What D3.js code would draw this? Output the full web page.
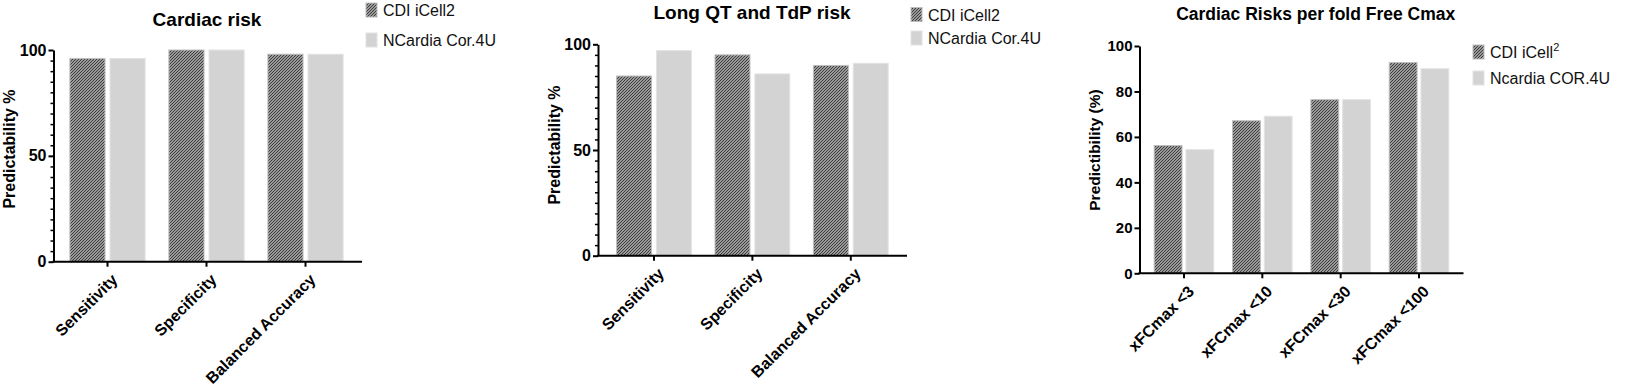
<!DOCTYPE html>
<html>
<head>
<meta charset="utf-8">
<script src="https://cdn.jsdelivr.net/npm/d3@7/dist/d3.min.js"></script>
<style>
  html, body { margin: 0; padding: 0; background: #fff; }
  svg { display: block; font-family: "Liberation Sans", Arial, Helvetica, sans-serif; }
</style>
</head>
<body>
<svg id="chart" width="1649" height="386"></svg>
<script>
// ---------- data ----------
const p1Title = "Cardiac risk";
const p1Categories = ["Sensitivity", "Specificity", "Balanced Accuracy"];
const p1CDI = [96, 100, 98];
const p1NCardia = [96, 100, 98];
const p1YTicks = [0, 50, 100];
const p1YLabel = "Predictability %";
const p1Legend = ["CDI iCell2", "NCardia Cor.4U"];

const p2Title = "Long QT and TdP risk";
const p2Categories = ["Sensitivity", "Specificity", "Balanced Accuracy"];
const p2CDI = [85, 95, 90];
const p2NCardia = [97, 86, 91];
const p2YTicks = [0, 50, 100];
const p2YLabel = "Predictability %";
const p2Legend = ["CDI iCell2", "NCardia Cor.4U"];

const p3Title = "Cardiac Risks per fold Free Cmax";
const p3Categories = ["xFCmax <3", "xFCmax <10", "xFCmax <30", "xFCmax <100"];
const p3CDI = [56.2, 67.1, 76.4, 92.7];
const p3Ncardia = [54.4, 69.1, 76.4, 90.0];
const p3YTicks = [0, 20, 40, 60, 80, 100];
const p3YLabel = "Predictibility (%)";
const p3Legend = ["CDI iCell", "Ncardia COR.4U"];
const p3LegendSup = ["2", ""];

// ---------- drawing ----------
const svg = d3.select("#chart");
const defs = svg.append("defs");
const pat = defs.append("pattern")
  .attr("id", "hatch").attr("patternUnits", "userSpaceOnUse")
  .attr("width", 3).attr("height", 3);
pat.append("rect").attr("width", 3).attr("height", 3).attr("fill", "#9a9a9a");
[[0, 2], [1, 1], [2, 0]].forEach(([x, y]) =>
  pat.append("rect").attr("x", x).attr("y", y).attr("width", 1).attr("height", 1).attr("fill", "#3c3c3c"));

const DARK_STROKE = "#bdbdbd";
const LIGHT_FILL = "#d3d3d3";
const LIGHT_STROKE = "#e3e3e3";

function drawPanel(cfg) {
  const g = svg.append("g");
  const y = d3.scaleLinear().domain([0, 100]).range([cfg.yBottom, cfg.yTop]);
  const x = d3.scaleBand().domain(cfg.categories).range(cfg.bandRange);
  const step = x.step();
  const bw = step * 0.355, gap = step * 0.05;

  // bars
  cfg.categories.forEach((c, i) => {
    const cx = x(c) + step / 2;
    g.append("rect")
      .attr("x", cx - gap / 2 - bw).attr("y", y(cfg.s1[i]))
      .attr("width", bw).attr("height", y(0) - y(cfg.s1[i]))
      .attr("fill", "url(#hatch)").attr("stroke", DARK_STROKE).attr("stroke-width", 1);
    g.append("rect")
      .attr("x", cx + gap / 2).attr("y", y(cfg.s2[i]))
      .attr("width", bw).attr("height", y(0) - y(cfg.s2[i]))
      .attr("fill", LIGHT_FILL).attr("stroke", LIGHT_STROKE).attr("stroke-width", 1);
  });

  // y minor ticks
  if (cfg.minor) {
    const minor = g.append("g").attr("transform", `translate(${cfg.x0},0)`)
      .call(d3.axisLeft(y).tickValues(cfg.minor).tickSize(3).tickFormat(""));
    minor.select(".domain").remove();
    minor.selectAll("line").attr("stroke", "#000").attr("stroke-width", 1.5);
  }
  // y axis
  const ya = g.append("g").attr("transform", `translate(${cfg.x0},0)`)
    .call(d3.axisLeft(y).tickValues(cfg.yTicks).tickSize(5).tickSizeOuter(0).tickPadding(2));
  ya.select(".domain").attr("stroke", "#000").attr("stroke-width", 2);
  ya.selectAll(".tick line").attr("stroke", "#000").attr("stroke-width", 2);
  ya.selectAll(".tick text").attr("font-size", cfg.yTickFont).attr("font-weight", "bold")
    .attr("fill", "#000").attr("font-family", "Liberation Sans, Arial, sans-serif");

  // x axis line
  g.append("line").attr("x1", cfg.x0 - 1).attr("x2", cfg.xEnd)
    .attr("y1", cfg.yBottom).attr("y2", cfg.yBottom)
    .attr("stroke", "#000").attr("stroke-width", 2);
  const xa = g.append("g").attr("transform", `translate(0,${cfg.yBottom})`)
    .call(d3.axisBottom(x).tickSize(5).tickSizeOuter(0).tickFormat(""));
  xa.select(".domain").remove();
  xa.selectAll(".tick line").attr("stroke", "#000").attr("stroke-width", 2);
  xa.selectAll(".tick").append("text")
    .attr("transform", "translate(3,11) rotate(-45)")
    .attr("dy", "0.71em")
    .attr("text-anchor", "end")
    .attr("font-size", 16).attr("font-weight", "bold").attr("fill", "#000")
    .attr("font-family", "Liberation Sans, Arial, sans-serif")
    .text(d => d);

  // y label
  g.append("text")
    .attr("transform", `translate(${cfg.yLabelX},${cfg.yLabelY}) rotate(-90)`)
    .attr("text-anchor", "middle").attr("font-size", cfg.yLabelFont)
    .attr("font-weight", "bold").text(cfg.yLabel);

  // title
  g.append("text").attr("x", cfg.titleX).attr("y", cfg.titleY)
    .attr("text-anchor", "middle").attr("font-size", cfg.titleFont)
    .attr("font-weight", "bold").text(cfg.title);

  // legend
  cfg.legend.forEach((t, i) => {
    const ly = cfg.legendY + i * cfg.legendStep;
    g.append("rect").attr("x", cfg.legendX).attr("y", ly)
      .attr("width", 11).attr("height", 14)
      .attr("fill", i === 0 ? "url(#hatch)" : LIGHT_FILL)
      .attr("stroke", i === 0 ? DARK_STROKE : LIGHT_STROKE).attr("stroke-width", 1);
    const tx = g.append("text").attr("x", cfg.legendX + 17).attr("y", ly + 13)
      .attr("font-size", 16).attr("fill", "#111").text(t);
    if (cfg.legendSup && cfg.legendSup[i]) {
      tx.append("tspan").attr("dy", -7).attr("font-size", 11).text(cfg.legendSup[i]);
    }
  });
}

drawPanel({
  categories: p1Categories, s1: p1CDI, s2: p1NCardia, yTicks: p1YTicks,
  minor: d3.range(5, 100, 5).filter(v => v % 50 !== 0),
  x0: 53.5, xEnd: 362, yTop: 50, yBottom: 261.7, bandRange: [58, 355],
  yTickFont: 16, yLabel: p1YLabel, yLabelX: 15, yLabelY: 149, yLabelFont: 16,
  title: p1Title, titleX: 207, titleY: 26, titleFont: 19,
  legend: p1Legend, legendX: 366, legendY: 3, legendStep: 30
});

drawPanel({
  categories: p2Categories, s1: p2CDI, s2: p2NCardia, yTicks: p2YTicks,
  minor: d3.range(5, 100, 5).filter(v => v % 50 !== 0),
  x0: 598, xEnd: 907, yTop: 44.3, yBottom: 255.7, bandRange: [604.8, 900],
  yTickFont: 16, yLabel: p2YLabel, yLabelX: 559.5, yLabelY: 145, yLabelFont: 16,
  title: p2Title, titleX: 752, titleY: 18.5, titleFont: 19,
  legend: p2Legend, legendX: 911, legendY: 7.5, legendStep: 23.5
});

drawPanel({
  categories: p3Categories, s1: p3CDI, s2: p3Ncardia, yTicks: p3YTicks,
  minor: null,
  x0: 1139.5, xEnd: 1463.5, yTop: 46, yBottom: 273.3, bandRange: [1144.8, 1458.2],
  yTickFont: 15, yLabel: p3YLabel, yLabelX: 1099.5, yLabelY: 150, yLabelFont: 15.5,
  title: p3Title, titleX: 1315.7, titleY: 20, titleFont: 17.5,
  legend: p3Legend, legendSup: p3LegendSup, legendX: 1473, legendY: 45, legendStep: 26
});
</script>
</body>
</html>
